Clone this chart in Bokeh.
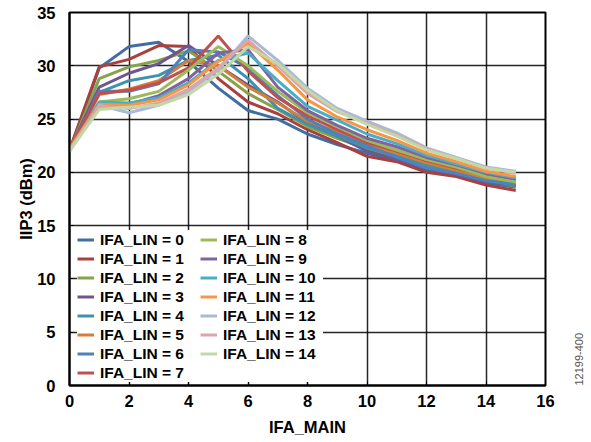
import math
from bokeh.plotting import figure
from bokeh.models import Legend, LegendItem, FixedTicker, Range1d, LinearAxis
from bokeh.embed import file_html
from bokeh.resources import INLINE

ifa_main = list(range(16))
x_ticks = [0, 2, 4, 6, 8, 10, 12, 14, 16]
y_ticks = [0, 5, 10, 15, 20, 25, 30, 35]

iip3_lin0 = [22.0, 29.8, 31.8, 32.2, 30.4, 27.9, 25.8, 25.0, 23.6, 22.6, 21.8, 21.1, 20.2, 19.7, 19.0, 18.6]
iip3_lin1 = [22.1, 29.9, 30.6, 31.9, 31.8, 28.8, 26.6, 25.5, 24.0, 22.8, 21.5, 21.0, 20.0, 19.6, 18.8, 18.3]
iip3_lin2 = [22.0, 28.8, 29.9, 30.5, 31.4, 29.5, 27.4, 25.9, 24.3, 23.2, 22.2, 21.4, 20.5, 19.9, 19.2, 18.7]
iip3_lin3 = [22.1, 28.0, 29.3, 30.2, 31.9, 30.0, 28.2, 26.6, 24.6, 23.4, 22.0, 21.2, 20.4, 19.8, 19.1, 18.8]
iip3_lin4 = [22.0, 27.5, 28.6, 29.1, 30.5, 31.0, 28.8, 26.0, 24.5, 23.4, 22.3, 21.6, 20.7, 20.0, 19.4, 19.0]
iip3_lin5 = [22.2, 27.3, 27.8, 28.6, 30.5, 30.0, 28.0, 26.5, 24.8, 23.8, 22.6, 21.8, 20.9, 20.2, 19.5, 19.2]
iip3_lin6 = [22.0, 27.6, 27.6, 28.3, 31.5, 31.3, 29.8, 27.2, 25.0, 23.6, 22.5, 21.4, 20.4, 19.9, 19.2, 18.8]
iip3_lin7 = [22.1, 27.4, 27.7, 28.4, 29.8, 32.8, 29.5, 27.0, 25.3, 24.0, 22.8, 22.0, 21.1, 20.4, 19.7, 19.3]
iip3_lin8 = [22.0, 26.6, 26.9, 27.6, 29.6, 31.8, 30.0, 27.6, 25.6, 24.3, 23.0, 22.1, 21.2, 20.5, 19.6, 19.1]
iip3_lin9 = [22.1, 26.5, 26.4, 27.2, 28.8, 31.2, 31.5, 28.0, 25.8, 24.4, 23.2, 22.4, 21.4, 20.7, 19.9, 19.4]
iip3_lin10 = [22.0, 26.6, 26.5, 27.0, 28.4, 30.5, 31.2, 28.6, 26.2, 24.9, 23.6, 22.7, 21.6, 20.8, 20.0, 19.5]
iip3_lin11 = [22.2, 26.4, 26.3, 26.8, 28.2, 30.4, 32.1, 29.6, 26.8, 25.2, 24.0, 23.0, 21.8, 21.0, 20.1, 19.6]
iip3_lin12 = [22.0, 26.3, 25.6, 26.3, 27.6, 29.6, 32.8, 30.5, 27.9, 26.0, 24.8, 23.7, 22.3, 21.4, 20.5, 20.1]
iip3_lin13 = [22.1, 26.2, 26.0, 26.5, 27.8, 29.8, 32.4, 30.0, 27.4, 25.7, 24.6, 23.5, 22.2, 21.3, 20.4, 19.9]
iip3_lin14 = [22.0, 25.9, 26.1, 26.3, 27.3, 29.2, 31.8, 30.2, 27.7, 25.8, 24.5, 23.4, 22.1, 21.3, 20.4, 20.0]

series = [iip3_lin0, iip3_lin1, iip3_lin2, iip3_lin3, iip3_lin4, iip3_lin5, iip3_lin6,
          iip3_lin7, iip3_lin8, iip3_lin9, iip3_lin10, iip3_lin11, iip3_lin12, iip3_lin13, iip3_lin14]
labels = ["IFA_LIN = %d" % i for i in range(15)]
colors = ["#416DA3", "#A8403D", "#86A24B", "#6E5791", "#3E93AA", "#D57D3A", "#4F81BD",
          "#C0504D", "#9BBB59", "#8064A2", "#4BACC6", "#F79646", "#A9B9D9", "#DBA7A6", "#C4D7A6"]
figure_code = "12199-400"

FONT = "Liberation Sans"

p = figure(width=591, height=442, output_backend="svg", toolbar_location=None,
           x_range=Range1d(0, 16), y_range=Range1d(0, 35),
           min_border_left=69, min_border_right=46, min_border_top=12, min_border_bottom=57)

renderers = []
for ys, c in zip(series, colors):
    r = p.line(ifa_main, ys, line_color=c, line_width=3)
    renderers.append(r)

p.outline_line_color = "black"
p.outline_line_width = 2

p.xaxis.ticker = FixedTicker(ticks=x_ticks)
p.yaxis.ticker = FixedTicker(ticks=y_ticks)
p.xgrid.ticker = FixedTicker(ticks=x_ticks)
p.ygrid.ticker = FixedTicker(ticks=y_ticks)
for g in (p.xgrid, p.ygrid):
    g.grid_line_color = "black"
    g.grid_line_width = 1.5
    g.grid_line_alpha = 0.85

for ax in (p.xaxis, p.yaxis):
    ax.axis_line_color = "black"
    ax.axis_line_width = 2
    ax.major_tick_in = 4
    ax.major_tick_out = 0
    ax.minor_tick_line_color = None
    ax.major_tick_line_color = "black"
    ax.major_label_text_font = FONT
    ax.major_label_text_font_style = "bold"
    ax.major_label_text_font_size = "16.5px"
    ax.major_label_text_color = "black"
    ax.axis_label_text_font = FONT
    ax.axis_label_text_font_style = "bold"
    ax.axis_label_text_font_size = "16.5px"
    ax.axis_label_text_color = "black"

p.xaxis.axis_label = "IFA_MAIN"
p.yaxis.axis_label = "IIP3 (dBm)"
p.xaxis.major_label_standoff = 9
p.yaxis.major_label_standoff = 14
p.xaxis.axis_label_standoff = 8
p.yaxis.axis_label_standoff = -1

legend = Legend(items=[LegendItem(label=l, renderers=[r]) for l, r in zip(labels, renderers)],
                location=(8, 3), orientation="vertical", nrows=8,
                label_text_font=FONT, label_text_font_style="bold", label_text_font_size="15.5px",
                label_text_color="black", glyph_width=17, glyph_height=19, label_height=19,
                label_width=100, label_standoff=6, spacing=0, padding=2, margin=0,
                border_line_color=None, background_fill_color="white", background_fill_alpha=1)
p.add_layout(legend, "center")

# side note code, drawn as a rotated tick label of an unmarked right axis
p.extra_y_ranges = {"code": Range1d(0, 1)}
code_axis = LinearAxis(y_range_name="code", ticker=FixedTicker(ticks=[0]),
                       major_label_overrides={0: figure_code},
                       major_label_orientation=math.pi / 2,
                       axis_line_color=None, major_tick_line_color=None,
                       minor_tick_line_color=None, major_label_standoff=27,
                       major_label_text_font=FONT, major_label_text_font_size="11px",
                       major_label_text_color="#555555")
p.add_layout(code_axis, "right")

open("out.html", "w").write(file_html(p, INLINE))
